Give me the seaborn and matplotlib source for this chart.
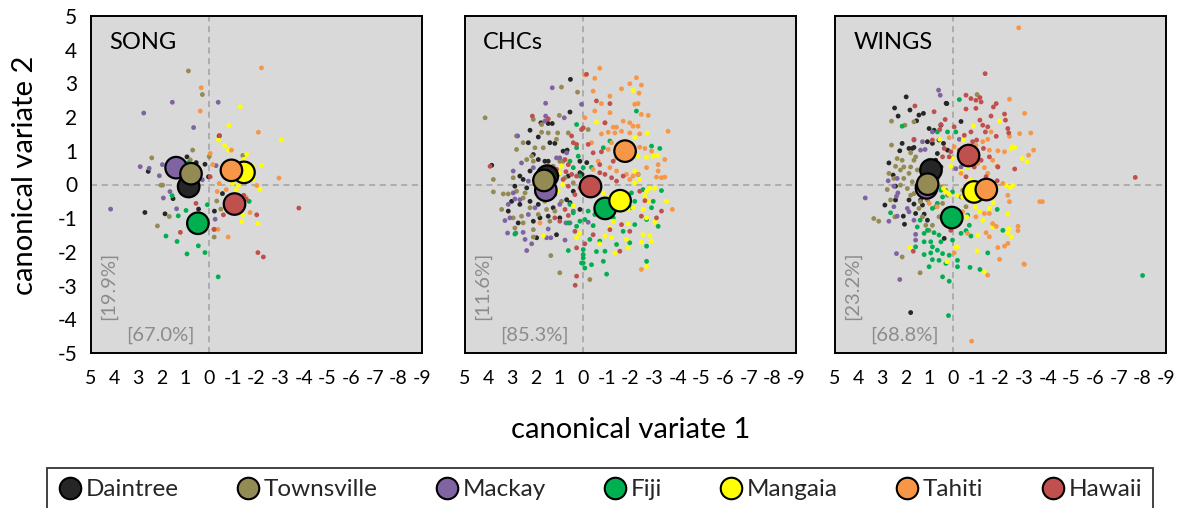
import matplotlib
matplotlib.use("Agg")
import matplotlib.pyplot as plt
from matplotlib.lines import Line2D
import seaborn as sns
import pandas as pd

# ---------------- data ----------------
groups = ["Daintree", "Townsville", "Mackay", "Fiji", "Mangaia", "Tahiti", "Hawaii"]
colors = ["#262626", "#948a54", "#8064a2", "#00b050", "#ffff00", "#f79646", "#c0504d"]
panels = ["SONG", "CHCs", "WINGS"]
pct_cv1 = ["[67.0%]", "[85.3%]", "[68.8%]"]
pct_cv2 = ["[19.9%]", "[11.6%]", "[23.2%]"]
xticks = list(range(5, -10, -1))
yticks = list(range(-5, 6))

# group centroids (canonical variate 1, canonical variate 2)
song_cx = [0.87, 0.77, 1.40, 0.48, -1.47, -0.94, -1.07]
song_cy = [-0.06, 0.32, 0.50, -1.15, 0.36, 0.42, -0.58]
chc_cx = [1.52, 1.66, 1.58, -0.93, -1.56, -1.77, -0.31]
chc_cy = [0.25, 0.12, -0.17, -0.71, -0.48, 0.99, -0.06]
wing_cx = [0.94, 1.08, 1.13, 0.06, -0.88, -1.40, -0.65]
wing_cy = [0.43, 0.01, -0.10, -0.98, -0.22, -0.15, 0.86]

# individual scores: SONG
song_daintree = [(2.58,0.39),(2.72,-0.83),(1.87,-0.87),(1.53,-0.42),(0.94,0.82),(0.55,0.65),(0.18,0.60),(0.03,0.23),(0.45,-0.73),(-0.22,-0.79),(-0.56,-0.27),(-0.42,1.44)]
song_townsville = [(0.88,3.37),(0.29,2.67),(0.70,1.02),(2.43,0.79),(2.04,-0.02),(1.97,-0.02),(1.69,-0.95),(2.19,-1.23),(-0.21,-1.56),(-0.32,-0.49),(-1.42,0.86),(0.0,0.83),(-0.49,-0.73),(0.80,0.73)]
song_mackay = [(2.77,2.12),(1.56,2.44),(0.66,1.69),(-0.38,2.44),(2.92,0.53),(2.54,0.48),(2.11,0.26),(1.98,0.59),(1.94,-0.40),(1.66,-0.21),(1.38,-0.72),(4.17,-0.73),(0.29,0.14),(-0.25,-1.03),(-0.29,0.56)]
song_fiji = [(1.83,-1.53),(1.36,-1.69),(1.31,-0.93),(0.98,-0.77),(0.94,-2.06),(0.46,-1.82),(0.18,-2.02),(0.08,-0.60),(-0.38,-2.74),(-0.20,-1.33),(-1.69,-0.50),(1.57,-0.33),(0.88,0.65)]
song_mangaia = [(-1.31,2.31),(-0.83,1.75),(-0.39,1.32),(-0.65,1.16),(-0.81,1.02),(-3.05,1.32),(-2.21,0.56),(-1.59,0.89),(-1.47,0.75),(-1.83,0.55),(-0.98,0.03),(-1.24,-0.03),(-1.15,-0.16),(-2.15,-0.14),(-1.42,-0.90),(-1.38,-1.10),(-2.06,-1.16),(-1.87,0.14),(-1.36,0.53)]
song_tahiti = [(-2.21,3.46),(0.34,2.87),(0.38,2.18),(-2.08,1.55),(-0.94,1.02),(-0.04,0.92),(-0.15,0.59),(-2.95,0.19),(-2.01,-0.03),(-0.34,-0.21),(-0.42,0.03),(-0.72,-0.15),(-1.56,-0.38),(-1.73,-0.83),(-0.80,-1.56),(-0.37,-1.33)]
song_hawaii = [(-0.44,1.45),(-0.04,0.23),(0.56,-0.56),(1.22,-1.42),(-0.21,-1.33),(-0.60,-0.90),(-1.46,-0.32),(-1.57,-0.44),(-2.01,-0.90),(-2.06,-2.02),(-2.29,-2.15),(-3.79,-0.70)]

# individual scores: CHCs
chc_daintree = [(0.54,3.12),(0.56,2.15),(1.31,1.81),(1.48,1.81),(2.25,1.61),(1.79,1.83),(1.90,1.41),(1.41,1.24),(1.20,1.22),(0.68,1.02),(2.32,1.24),(2.11,0.89),(1.90,0.74),(1.62,0.69),(2.25,0.40),(2.68,0.25),(2.54,0.15),(2.89,-0.05),(3.03,-0.50),(2.68,-0.59),(2.25,-0.50),(1.90,-0.59),(1.83,-0.99),(2.11,-1.09),(1.27,-0.69),(1.48,-0.94),(0.99,-0.99),(1.13,-1.49),(1.97,-1.58),(2.75,-1.14),(3.17,-0.79),(0.14,0.69),(0.14,0.35),(0.63,0.25),(3.87,0.57),(0.85,0.99),(1.48,0.69),(0.42,-0.20),(0.14,-0.74),(0.70,-0.45),(2.39,-0.10),(0.56,-0.54),(-0.15,0.65),(0.05,0.30)]
chc_townsville = [(4.15,1.98),(0.92,2.89),(0.24,2.74),(1.01,2.05),(1.76,1.78),(2.11,1.93),(0.63,1.53),(1.08,1.53),(1.48,1.53),(1.76,1.55),(2.82,1.44),(2.54,1.24),(2.04,1.09),(1.69,1.09),(2.82,1.04),(2.39,0.74),(2.11,0.69),(1.76,0.40),(1.27,0.54),(1.06,0.30),(3.80,0.15),(3.80,-0.22),(3.38,-0.28),(3.17,-0.28),(2.96,0.20),(2.82,-0.20),(2.46,-0.25),(2.54,-0.40),(2.25,-0.69),(2.61,-0.94),(2.96,-0.99),(3.45,-0.74),(2.89,-1.29),(2.54,-1.14),(2.11,-1.34),(1.90,-0.89),(1.55,-0.74),(1.41,-1.09),(1.62,-0.50),(1.20,-0.30),(0.92,-0.50),(0.77,0.20),(0.42,0.05),(0.85,0.69),(1.37,-2.11),(0.99,-2.62),(-0.21,1.63),(2.11,-1.56),(1.20,-0.79),(0.99,0.69),(1.13,1.34),(2.18,0.84),(-0.28,-2.82)]
chc_mackay = [(1.31,2.87),(1.59,2.41),(0.80,1.98),(1.59,2.03),(2.77,1.44),(2.61,0.64),(2.11,0.50),(0.99,0.79),(2.96,0.40),(2.32,0.10),(2.96,-0.25),(3.17,-0.59),(2.89,-0.43),(2.68,-0.45),(3.31,-1.07),(3.10,-0.99),(3.20,-1.44),(2.85,-1.44),(2.54,-1.42),(2.46,-1.63),(2.18,-1.76),(2.39,-1.96),(1.48,-1.32),(1.55,-1.58),(1.37,-1.58),(0.77,-1.65),(0.73,-1.14),(0.56,-1.14),(2.32,-0.89),(2.04,-0.69),(1.69,-0.40),(1.27,-0.30),(0.99,-0.59),(1.97,-0.25),(1.13,0.79),(1.62,1.88),(0.70,0.94),(0.42,-0.79),(0.07,2.38),(-0.21,-1.12)]
chc_fiji = [(0.28,1.78),(0.28,1.09),(0.21,0.84),(0.56,0.69),(0.0,0.50),(0.42,0.50),(0.14,0.25),(0.56,-0.59),(0.42,-0.84),(0.14,-1.09),(0.28,-1.24),(0.63,-1.14),(2.89,-1.47),(0.63,-1.96),(0.0,-2.18),(-0.07,-2.48),(0.0,-2.33),(-3.24,1.07),(-2.25,2.18),(-2.89,1.14),(-0.35,0.51),(-0.85,1.09),(-1.13,1.29),(-2.32,0.30),(-3.31,-0.18),(-2.04,-0.25),(-2.18,-0.50),(-2.53,-0.15),(-2.96,-0.50),(-3.17,-1.24),(-2.04,-0.69),(-2.68,-1.04),(-2.89,-0.69),(-0.21,-0.79),(-0.49,-0.89),(-0.07,-1.04),(-0.42,-1.22),(-1.27,-0.99),(-2.18,-1.19),(-1.69,-1.39),(-0.28,-1.63),(-0.70,-1.68),(-1.41,-1.78),(-1.97,-1.73),(-2.68,-1.83),(0.0,-1.93),(-0.56,-1.99),(-0.92,-1.98),(0.07,-2.33),(-0.35,-2.38),(-0.85,-2.28),(-2.68,-2.28),(-0.99,-2.66),(0.0,-2.08)]
chc_mangaia = [(1.69,-1.53),(0.28,-1.58),(0.17,-1.44),(0.92,0.54),(0.87,0.0),(1.06,-0.20),(0.99,0.35),(0.42,-0.64),(-2.11,2.79),(-0.56,1.85),(-2.70,1.53),(-2.32,0.84),(-2.68,0.81),(-2.96,0.84),(-3.17,0.86),(-2.18,0.40),(-2.39,0.15),(-2.18,0.05),(-2.82,-0.11),(-3.03,-0.11),(-2.68,-0.20),(-2.61,-0.35),(-3.52,-0.50),(-0.85,-0.25),(-1.06,-0.40),(-1.41,-0.74),(-1.90,-0.74),(-2.11,-0.69),(-2.53,-0.74),(-2.75,-0.50),(-1.27,-1.09),(-1.90,-1.17),(-2.68,-0.99),(-3.03,-1.12),(-2.53,-1.49),(-2.82,-1.53),(-2.89,-1.68),(-2.46,-1.71),(-0.92,-1.53),(-1.20,-1.58),(-1.83,-1.63),(-1.90,-1.88),(-1.34,-2.03),(-0.70,-1.76),(-1.13,-1.29),(-2.68,-2.43),(-2.18,1.39)]
chc_tahiti = [(-0.70,3.45),(-0.06,3.25),(-0.49,3.15),(-2.25,3.17),(-1.97,2.99),(-2.46,2.95),(-1.62,2.84),(-0.42,2.77),(-1.13,2.62),(-2.36,2.71),(-0.77,2.40),(-2.18,2.38),(-2.32,2.40),(-0.49,2.18),(-1.13,2.13),(-2.46,2.08),(-2.75,2.05),(-0.92,1.83),(-1.69,1.88),(-1.97,1.83),(-2.11,1.73),(-2.32,1.73),(-1.27,1.70),(-1.41,1.70),(-0.77,1.50),(-1.06,1.55),(-1.34,1.53),(-1.62,1.58),(-1.97,1.53),(-2.39,1.50),(-3.59,1.58),(-0.35,1.24),(-1.20,1.24),(-1.06,1.04),(-2.39,1.11),(-2.61,1.07),(-2.89,0.99),(-0.63,0.69),(-1.13,0.50),(-1.41,0.40),(-1.83,0.30),(-2.11,0.25),(-2.32,0.30),(-0.42,0.45),(-1.97,0.15),(-3.10,0.22),(-3.31,0.20),(-3.45,0.22),(-3.17,0.59),(-3.17,0.40),(-3.45,0.74),(-2.68,0.50),(-3.77,-0.74),(-2.46,-2.52),(-1.69,0.99),(-1.41,0.79),(-0.07,1.98),(1.83,-1.14)]
chc_hawaii = [(2.15,2.03),(3.94,0.54),(1.48,1.95),(0.49,1.44),(0.42,1.24),(0.28,1.19),(0.07,1.63),(0.77,0.74),(0.63,0.59),(0.73,0.38),(0.49,0.30),(0.28,0.25),(0.14,-0.10),(0.63,-0.05),(0.35,-0.30),(0.85,0.15),(0.77,-0.74),(0.99,-1.09),(1.20,-0.99),(0.63,-0.92),(0.35,-1.39),(0.28,-1.88),(0.28,-2.72),(1.13,0.45),(-0.14,3.27),(-0.56,2.48),(-1.13,2.40),(-0.92,1.83),(0.0,1.68),(-0.21,1.19),(-0.77,0.97),(-0.42,0.94),(-0.70,0.59),(-0.70,0.35),(-1.20,0.20),(-0.92,0.30),(-1.41,0.10),(-1.69,0.25),(-2.39,-0.20),(-3.31,-0.79),(-2.46,-0.94),(-3.10,-0.99),(-1.62,-1.19),(-0.42,-1.49),(-0.07,-1.76),(-1.55,-1.98),(-1.97,-1.39),(-1.13,-1.34),(-2.61,-0.48),(-1.27,0.69),(0.34,-2.99)]

# individual scores: WINGS
wing_daintree = [(1.99,2.60),(2.48,2.27),(1.83,2.21),(2.33,2.03),(1.26,2.11),(1.45,2.06),(0.27,2.40),(1.55,1.89),(1.02,1.66),(0.81,1.61),(0.52,1.76),(2.16,1.22),(1.87,1.07),(2.26,1.00),(1.73,1.07),(2.72,0.64),(2.54,0.28),(2.44,-0.05),(2.89,-0.61),(2.44,-0.46),(1.66,-0.58),(2.11,-0.94),(2.06,-1.18),(1.59,-0.86),(1.30,-0.61),(1.23,-0.88),(0.38,-1.60),(0.67,0.92),(0.41,1.22),(0.24,1.02),(0.60,1.32),(1.09,1.27),(0.88,1.22),(1.66,1.10),(0.74,0.72),(0.52,0.52),(1.38,-0.46),(1.87,-0.46),(1.09,-1.06),(1.80,-3.80),(0.30,2.41),(-0.33,1.87)]
wing_townsville = [(2.61,1.88),(2.04,1.76),(1.66,1.86),(2.61,1.17),(2.37,0.77),(2.16,0.72),(2.09,0.52),(2.44,0.54),(1.80,0.94),(1.66,0.72),(1.80,0.52),(1.87,0.33),(2.72,0.33),(2.51,0.18),(2.23,-0.02),(2.79,-0.15),(2.09,0.18),(1.73,0.08),(1.94,-0.12),(1.66,-0.27),(1.80,-0.32),(1.38,-0.51),(1.45,-0.71),(1.30,-0.96),(3.36,-1.01),(3.15,-1.09),(2.47,-0.96),(0.88,-1.21),(1.16,-1.21),(1.02,-1.36),(0.60,-0.96),(2.16,-2.15),(1.40,-2.62),(0.67,0.18),(0.52,-0.07),(0.31,-0.17),(0.24,-0.32),(0.45,-0.56),(0.74,-0.66),(1.09,-0.46),(1.52,0.43),(1.59,0.82),(1.02,0.72),(2.23,0.43),(2.65,-0.46),(-1.01,2.67),(-0.40,-0.17),(-0.33,-0.37),(-0.54,-0.66)]
wing_mackay = [(0.62,2.80),(0.55,2.65),(0.88,1.56),(1.66,1.32),(1.30,1.27),(1.38,1.02),(1.19,1.04),(2.75,0.11),(2.37,0.18),(2.51,-0.05),(3.72,-0.40),(2.40,-0.35),(2.34,-0.25),(2.51,-0.66),(2.37,-0.94),(2.72,-1.09),(1.94,-0.71),(1.87,-0.81),(1.66,-1.06),(1.59,-1.48),(1.59,-1.65),(2.40,-2.05),(2.26,-2.82),(1.09,0.33),(0.81,0.52),(-0.11,0.47),(-0.26,1.34),(-0.33,0.52)]
wing_fiji = [(2.16,1.73),(-0.26,2.52),(-0.11,1.56),(0.24,1.56),(0.67,1.56),(0.52,-0.17),(0.03,-0.22),(0.45,-0.37),(0.67,-0.56),(0.88,-0.71),(2.65,-0.84),(1.40,-1.06),(1.52,-1.26),(1.09,-1.36),(1.23,-1.45),(0.81,-1.43),(0.60,-1.50),(0.95,-1.70),(1.23,-1.70),(1.59,-1.85),(0.88,-1.85),(0.52,-1.70),(1.23,-2.08),(0.95,-2.03),(0.88,-2.23),(1.02,-2.44),(0.67,-1.95),(0.45,-2.05),(0.17,-2.10),(0.03,-1.65),(0.45,-2.74),(0.17,-2.87),(-0.33,-1.45),(0.31,-2.34),(0.60,-2.25),(-0.18,-0.86),(-0.61,-0.91),(-0.68,-1.21),(-0.54,-1.37),(-0.75,-1.53),(-1.86,-0.74),(-2.10,-1.36),(-1.46,-2.03),(-0.71,-2.46),(-1.13,-2.52),(-0.18,-2.44),(-0.18,-2.25),(-8.01,-2.70),(0.20,-3.89)]
wing_mangaia = [(0.57,1.34),(0.03,0.77),(0.10,0.54),(0.41,-0.12),(0.31,-0.22),(0.17,-0.29),(-0.16,-0.32),(1.83,-1.87),(0.27,-2.29),(-0.11,-1.85),(-0.85,1.74),(-1.96,1.89),(-2.45,1.07),(-2.60,1.10),(-2.92,0.77),(-3.12,0.67),(-0.96,0.67),(-0.33,0.38),(-0.61,0.52),(-2.24,-0.02),(-2.52,-0.02),(-2.41,-0.09),(-0.40,-0.37),(-0.68,-0.46),(-0.94,-0.66),(-1.11,-0.81),(-1.53,-0.71),(-1.70,-0.54),(-1.25,-1.06),(-2.31,-0.88),(-2.35,-1.31),(-2.31,-1.43),(-2.45,-1.55),(-1.67,-1.26),(-1.04,-1.50),(-1.01,-1.97),(-0.18,-1.85),(-1.32,-2.59),(-0.57,-0.96),(-0.43,1.32),(-0.75,0.13),(-1.82,-0.07),(-2.52,1.12)]
wing_tahiti = [(0.17,1.39),(-0.04,1.12),(1.02,-0.56),(0.67,-0.66),(-0.04,-2.03),(-2.38,2.53),(-3.02,2.11),(-3.28,1.53),(-2.81,1.51),(-2.38,1.43),(-1.60,1.56),(-1.46,1.34),(-1.25,1.27),(-0.96,1.17),(-1.53,1.02),(-1.89,1.00),(-2.17,0.97),(-3.40,1.02),(-3.19,0.87),(-1.67,0.72),(-1.04,0.62),(-1.32,0.50),(-1.86,0.54),(-1.46,0.33),(-0.33,0.33),(-2.10,0.03),(-3.66,-0.51),(-3.77,-0.51),(-2.31,-0.32),(-2.38,-0.51),(-1.32,-0.86),(-1.53,-0.86),(-0.96,-0.96),(-0.40,-0.81),(-1.67,-1.16),(-1.82,-1.24),(-2.74,-1.24),(-2.74,-1.37),(-1.39,-1.43),(-1.53,-1.55),(-0.61,-1.45),(-2.31,-1.75),(-2.17,-1.83),(-1.89,-1.87),(-1.96,-2.22),(-2.99,-2.36),(-1.46,-2.69),(-0.89,-0.22),(-2.77,4.65),(-0.78,-4.65),(-3.01,-2.37)]
wing_hawaii = [(1.62,2.33),(0.81,2.16),(0.52,1.78),(0.34,1.93),(0.57,1.63),(0.88,1.32),(0.38,1.07),(0.10,0.97),(0.17,0.82),(0.45,0.82),(1.69,-1.98),(0.10,-1.36),(-0.04,1.71),(1.66,1.34),(-1.35,3.29),(-0.54,2.65),(-0.75,2.55),(-0.96,2.50),(-1.13,2.58),(-1.18,2.45),(-1.82,2.40),(-1.70,2.30),(-0.54,2.24),(-0.96,2.26),(-1.60,2.03),(-2.17,2.09),(-2.21,1.91),(-1.13,1.91),(-1.25,1.76),(-1.46,1.71),(-1.36,1.56),(-1.82,1.43),(-2.31,1.66),(-2.35,1.53),(-0.47,1.46),(-0.75,1.56),(-0.82,1.27),(-0.99,1.32),(-1.28,1.07),(-1.53,0.82),(-1.18,0.72),(-0.89,0.52),(-0.40,0.82),(-0.61,0.72),(-1.89,0.52),(-2.60,0.46),(-1.86,0.11),(-0.54,0.23),(-1.39,0.23),(-0.47,1.07),(-0.26,1.02),(-7.70,0.21)]

# ---------------- tables ----------------
panel_points = {
    "SONG": [song_daintree, song_townsville, song_mackay, song_fiji, song_mangaia, song_tahiti, song_hawaii],
    "CHCs": [chc_daintree, chc_townsville, chc_mackay, chc_fiji, chc_mangaia, chc_tahiti, chc_hawaii],
    "WINGS": [wing_daintree, wing_townsville, wing_mackay, wing_fiji, wing_mangaia, wing_tahiti, wing_hawaii],
}
panel_centroids = {"SONG": (song_cx, song_cy), "CHCs": (chc_cx, chc_cy), "WINGS": (wing_cx, wing_cy)}

rows = []
for p, lists in panel_points.items():
    for g, pts in zip(groups, lists):
        for x, y in pts:
            rows.append({"panel": p, "group": g, "cv1": x, "cv2": y})
pts_df = pd.DataFrame(rows)

crow = []
centroid_order = ["Mackay", "Daintree", "Townsville", "Fiji", "Mangaia", "Tahiti", "Hawaii"]
for p, (cx, cy) in panel_centroids.items():
    for g in centroid_order:
        i = groups.index(g)
        crow.append({"panel": p, "group": g, "cv1": cx[i], "cv2": cy[i]})
cen_df = pd.DataFrame(crow)

palette = dict(zip(groups, colors))

# ---------------- style ----------------
sns.set_theme(style="white")
plt.rcParams["font.family"] = ["Lato", "DejaVu Sans"]
plt.rcParams["axes.unicode_minus"] = False

fig = plt.figure(figsize=(11.84, 5.08), dpi=100)
lefts = [91 / 1184, 465 / 1184, 835 / 1184]
W = 331 / 1184
B = 155 / 508
H = 337 / 508
bg = "#d9d9d9"
grey_txt = "#8c8c8c"

for k, p in enumerate(panels):
    ax = fig.add_axes([lefts[k], B, W, H])
    ax.set_facecolor(bg)
    ax.axhline(0, color="#a0a0a0", lw=1.1, ls=(0, (4, 3)), zorder=1)
    ax.axvline(0, color="#a0a0a0", lw=1.1, ls=(0, (4, 3)), zorder=1)
    sub = pts_df[pts_df.panel == p]
    sns.scatterplot(data=sub, x="cv1", y="cv2", hue="group", hue_order=groups, palette=palette,
                    s=12, linewidth=0, legend=False, ax=ax, zorder=2)
    csub = cen_df[cen_df.panel == p]
    sns.scatterplot(data=csub, x="cv1", y="cv2", hue="group", hue_order=groups, palette=palette,
                    s=240, edgecolor="black", linewidth=1.6, legend=False, ax=ax, zorder=3)
    ax.set_xlim(5, -9)
    ax.set_ylim(-5, 5)
    ax.set_xticks(xticks)
    ax.set_xticklabels([str(t) for t in xticks], fontsize=14)
    ax.set_yticks(yticks)
    if k == 0:
        ax.set_yticklabels([str(t) for t in yticks], fontsize=15)
        ax.tick_params(axis="y", direction="out", length=7, width=1.2, color="black", pad=3)
    else:
        ax.set_yticklabels([])
        ax.tick_params(axis="y", length=0)
    ax.tick_params(axis="x", direction="out", length=7, width=1.2, color="black", pad=5)
    ax.tick_params(colors="black", labelcolor="black")
    ax.set_xlabel("")
    ax.set_ylabel("")
    for s in ax.spines.values():
        s.set_color("black")
        s.set_linewidth(1.4)
    ax.text(0.055, 0.92, p, transform=ax.transAxes, fontsize=17, ha="left", va="center", color="black")
    ax.text(0.054, 0.2, pct_cv2[k], transform=ax.transAxes, fontsize=14.5, rotation=90,
            ha="center", va="center", color=grey_txt)
    ax.text(0.21, 0.052, pct_cv1[k], transform=ax.transAxes, fontsize=14.5,
            ha="center", va="center", color=grey_txt)

fig.text(25 / 1184, 1 - 175 / 508, "canonical variate 2", rotation=90, fontsize=21,
         ha="center", va="center", color="black")
fig.text(631 / 1184, 1 - 430 / 508, "canonical variate 1", fontsize=21,
         ha="center", va="center", color="black")

handles = [Line2D([0], [0], marker="o", ls="", markerfacecolor=c, markeredgecolor="black",
                  markeredgewidth=1.5, markersize=15.5) for c in colors]
leg = fig.legend(handles, groups, ncol=7, loc="lower left",
                 bbox_to_anchor=(47 / 1184, -3 / 508, 1106 / 1184, 42 / 508), mode="expand",
                 frameon=True, fancybox=False, edgecolor="black", handletextpad=0.15,
                 borderaxespad=0, prop={"size": 17.5}, handlelength=1.0,
                 borderpad=0.45)
leg.get_frame().set_linewidth(1.3)

fig.savefig("out.png", dpi=100)
